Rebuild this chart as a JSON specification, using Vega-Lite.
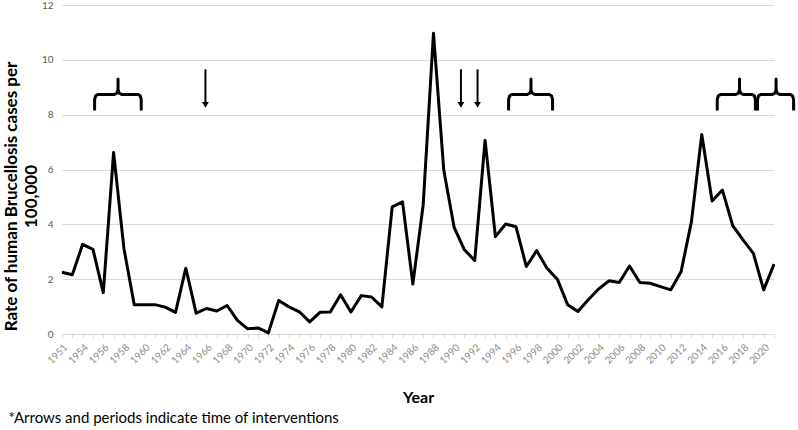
{
  "$schema": "https://vega.github.io/schema/vega-lite/v6.json",
  "width": 712,
  "height": 329,
  "autosize": {"type": "none"},
  "padding": {"left": 62, "top": 5, "right": 24, "bottom": 96},
  "background": "white",
  "config": {
    "view": {"stroke": null},
    "font": "Lato"
  },
  "title": {
    "text": "*Arrows and periods indicate time of interventions",
    "orient": "bottom",
    "anchor": "start",
    "frame": "bounds",
    "font": "Lato",
    "fontSize": 15,
    "fontWeight": "normal",
    "color": "black",
    "offset": 6,
    "dx": 6
  },
  "datasets": {
    "rates": [
      {"year": "1951", "rate": 2.25}, {"year": "1953", "rate": 2.16}, {"year": "1954", "rate": 3.27},
      {"year": "1955", "rate": 3.09}, {"year": "1956", "rate": 1.51}, {"year": "1957", "rate": 6.62},
      {"year": "1958", "rate": 3.12}, {"year": "1959", "rate": 1.07}, {"year": "1960", "rate": 1.07},
      {"year": "1961", "rate": 1.07}, {"year": "1962", "rate": 0.98}, {"year": "1963", "rate": 0.79},
      {"year": "1964", "rate": 2.4}, {"year": "1965", "rate": 0.76}, {"year": "1966", "rate": 0.93},
      {"year": "1967", "rate": 0.84}, {"year": "1968", "rate": 1.04}, {"year": "1969", "rate": 0.5},
      {"year": "1970", "rate": 0.19}, {"year": "1971", "rate": 0.22}, {"year": "1972", "rate": 0.04},
      {"year": "1973", "rate": 1.22}, {"year": "1974", "rate": 0.99}, {"year": "1975", "rate": 0.81},
      {"year": "1976", "rate": 0.44}, {"year": "1977", "rate": 0.79}, {"year": "1978", "rate": 0.8},
      {"year": "1979", "rate": 1.43}, {"year": "1980", "rate": 0.8}, {"year": "1981", "rate": 1.4},
      {"year": "1982", "rate": 1.35}, {"year": "1983", "rate": 0.99}, {"year": "1984", "rate": 4.64},
      {"year": "1985", "rate": 4.82}, {"year": "1986", "rate": 1.82}, {"year": "1987", "rate": 4.7},
      {"year": "1988", "rate": 10.97}, {"year": "1989", "rate": 5.97}, {"year": "1990", "rate": 3.89},
      {"year": "1991", "rate": 3.07}, {"year": "1992", "rate": 2.68}, {"year": "1993", "rate": 7.07},
      {"year": "1994", "rate": 3.55}, {"year": "1995", "rate": 4.01}, {"year": "1996", "rate": 3.91},
      {"year": "1997", "rate": 2.46}, {"year": "1998", "rate": 3.04}, {"year": "1999", "rate": 2.4},
      {"year": "2000", "rate": 2.0}, {"year": "2001", "rate": 1.07}, {"year": "2002", "rate": 0.82},
      {"year": "2003", "rate": 1.25}, {"year": "2004", "rate": 1.64}, {"year": "2005", "rate": 1.94},
      {"year": "2006", "rate": 1.88}, {"year": "2007", "rate": 2.48}, {"year": "2008", "rate": 1.88},
      {"year": "2009", "rate": 1.85}, {"year": "2010", "rate": 1.73}, {"year": "2011", "rate": 1.61},
      {"year": "2012", "rate": 2.28}, {"year": "2013", "rate": 4.1}, {"year": "2014", "rate": 7.28},
      {"year": "2015", "rate": 4.85}, {"year": "2016", "rate": 5.25}, {"year": "2017", "rate": 3.95},
      {"year": "2018", "rate": 3.43}, {"year": "2019", "rate": 2.94}, {"year": "2020", "rate": 1.61},
      {"year": "2021", "rate": 2.55}
    ],
    "braces": [
      {"id": 1, "k": 0, "x": 1955.16, "y": 8.15}, {"id": 1, "k": 1, "x": 1955.16, "y": 8.55},
      {"id": 1, "k": 2, "x": 1955.26, "y": 8.69}, {"id": 1, "k": 3, "x": 1955.51, "y": 8.74},
      {"id": 1, "k": 4, "x": 1957.08, "y": 8.74}, {"id": 1, "k": 5, "x": 1957.33, "y": 8.79},
      {"id": 1, "k": 6, "x": 1957.43, "y": 8.92}, {"id": 1, "k": 7, "x": 1957.43, "y": 9.3},
      {"id": 1, "k": 8, "x": 1957.43, "y": 8.92}, {"id": 1, "k": 9, "x": 1957.53, "y": 8.79},
      {"id": 1, "k": 10, "x": 1957.78, "y": 8.74}, {"id": 1, "k": 11, "x": 1959.33, "y": 8.74},
      {"id": 1, "k": 12, "x": 1959.58, "y": 8.69}, {"id": 1, "k": 13, "x": 1959.68, "y": 8.55},
      {"id": 1, "k": 14, "x": 1959.68, "y": 8.15},
      {"id": 2, "k": 0, "x": 1995.28, "y": 8.15}, {"id": 2, "k": 1, "x": 1995.28, "y": 8.55},
      {"id": 2, "k": 2, "x": 1995.38, "y": 8.69}, {"id": 2, "k": 3, "x": 1995.63, "y": 8.74},
      {"id": 2, "k": 4, "x": 1997.1, "y": 8.74}, {"id": 2, "k": 5, "x": 1997.35, "y": 8.79},
      {"id": 2, "k": 6, "x": 1997.45, "y": 8.92}, {"id": 2, "k": 7, "x": 1997.45, "y": 9.3},
      {"id": 2, "k": 8, "x": 1997.45, "y": 8.92}, {"id": 2, "k": 9, "x": 1997.55, "y": 8.79},
      {"id": 2, "k": 10, "x": 1997.8, "y": 8.74}, {"id": 2, "k": 11, "x": 1999.19, "y": 8.74},
      {"id": 2, "k": 12, "x": 1999.44, "y": 8.69}, {"id": 2, "k": 13, "x": 1999.54, "y": 8.55},
      {"id": 2, "k": 14, "x": 1999.54, "y": 8.15},
      {"id": 3, "k": 0, "x": 2015.5, "y": 8.15}, {"id": 3, "k": 1, "x": 2015.5, "y": 8.55},
      {"id": 3, "k": 2, "x": 2015.6, "y": 8.69}, {"id": 3, "k": 3, "x": 2015.85, "y": 8.74},
      {"id": 3, "k": 4, "x": 2017.31, "y": 8.74}, {"id": 3, "k": 5, "x": 2017.56, "y": 8.79},
      {"id": 3, "k": 6, "x": 2017.66, "y": 8.92}, {"id": 3, "k": 7, "x": 2017.66, "y": 9.3},
      {"id": 3, "k": 8, "x": 2017.66, "y": 8.92}, {"id": 3, "k": 9, "x": 2017.76, "y": 8.79},
      {"id": 3, "k": 10, "x": 2018.01, "y": 8.74}, {"id": 3, "k": 11, "x": 2018.85, "y": 8.74},
      {"id": 3, "k": 12, "x": 2019.1, "y": 8.69}, {"id": 3, "k": 13, "x": 2019.2, "y": 8.55},
      {"id": 3, "k": 14, "x": 2019.2, "y": 8.15},
      {"id": 4, "k": 0, "x": 2019.4, "y": 8.15}, {"id": 4, "k": 1, "x": 2019.4, "y": 8.55},
      {"id": 4, "k": 2, "x": 2019.5, "y": 8.69}, {"id": 4, "k": 3, "x": 2019.75, "y": 8.74},
      {"id": 4, "k": 4, "x": 2020.85, "y": 8.74}, {"id": 4, "k": 5, "x": 2021.1, "y": 8.79},
      {"id": 4, "k": 6, "x": 2021.2, "y": 8.92}, {"id": 4, "k": 7, "x": 2021.2, "y": 9.3},
      {"id": 4, "k": 8, "x": 2021.2, "y": 8.92}, {"id": 4, "k": 9, "x": 2021.3, "y": 8.79},
      {"id": 4, "k": 10, "x": 2021.55, "y": 8.74}, {"id": 4, "k": 11, "x": 2022.55, "y": 8.74},
      {"id": 4, "k": 12, "x": 2022.8, "y": 8.69}, {"id": 4, "k": 13, "x": 2022.9, "y": 8.55},
      {"id": 4, "k": 14, "x": 2022.9, "y": 8.15}
    ],
    "arrows": [
      {"x": 1965.9}, {"x": 1990.66}, {"x": 1992.27}
    ]
  },
  "resolve": {"scale": {"x": "independent"}},
  "layer": [
    {
      "data": {"name": "rates"},
      "mark": {"type": "line", "color": "black", "strokeWidth": 3, "strokeJoin": "round"},
      "encoding": {
        "x": {
          "field": "year",
          "type": "ordinal",
          "scale": {"type": "point", "padding": 0},
          "axis": {
            "title": "Year",
            "titleFont": "Lato",
            "titleFontSize": 16,
            "titleFontWeight": "bold",
            "titleColor": "black",
            "titlePadding": 24,
            "labelAngle": -45,
            "labelFont": "Lato",
            "labelFontSize": 10,
            "labelColor": "#8c8c8c",
            "labelPadding": 4,
            "labelOverlap": false,
            "labelExpr": "indexof(['1951','1954','1956','1958','1960','1962','1964','1966','1968','1970','1972','1974','1976','1978','1980','1982','1984','1986','1988','1990','1992','1994','1996','1998','2000','2002','2004','2006','2008','2010','2012','2014','2016','2018','2020'], datum.label) >= 0 ? datum.label : ''",
            "domainColor": "#d9d9d9",
            "domainWidth": 1,
            "tickColor": "#d9d9d9",
            "tickSize": 4,
            "grid": false
          }
        },
        "y": {
          "field": "rate",
          "type": "quantitative",
          "scale": {"domain": [0, 12], "nice": false, "zero": true},
          "axis": {
            "title": ["Rate of human Brucellosis cases per", "100,000"],
            "titleFont": "Lato",
            "titleFontSize": 17,
            "titleFontWeight": "bold",
            "titleColor": "black",
            "titlePadding": 1,
            "titleLineHeight": 20,
            "titleY": 191,
            "values": [0, 2, 4, 6, 8, 10, 12],
            "labelFont": "Lato",
            "labelFontSize": 10,
            "labelColor": "#595959",
            "labelPadding": 9,
            "domain": false,
            "ticks": false,
            "gridColor": "#d9d9d9",
            "gridWidth": 1
          }
        }
      }
    },
    {
      "data": {"name": "braces"},
      "mark": {"type": "line", "color": "black", "strokeWidth": 3, "strokeJoin": "round", "clip": false},
      "encoding": {
        "x": {"field": "x", "type": "quantitative", "scale": {"domain": [1952, 2021], "nice": false, "zero": false}, "axis": null},
        "y": {"field": "y", "type": "quantitative"},
        "detail": {"field": "id", "type": "nominal"},
        "order": {"field": "k", "type": "quantitative"}
      }
    },
    {
      "data": {"name": "arrows"},
      "mark": {"type": "rule", "color": "black", "strokeWidth": 2},
      "encoding": {
        "x": {"field": "x", "type": "quantitative", "scale": {"domain": [1952, 2021], "nice": false, "zero": false}, "axis": null},
        "y": {"datum": 9.65, "type": "quantitative"},
        "y2": {"datum": 8.45}
      }
    },
    {
      "data": {"name": "arrows"},
      "mark": {"type": "point", "shape": "triangle-down", "filled": true, "color": "black", "opacity": 1, "size": 45},
      "encoding": {
        "x": {"field": "x", "type": "quantitative", "scale": {"domain": [1952, 2021], "nice": false, "zero": false}, "axis": null},
        "y": {"datum": 8.36, "type": "quantitative"}
      }
    }
  ]
}
